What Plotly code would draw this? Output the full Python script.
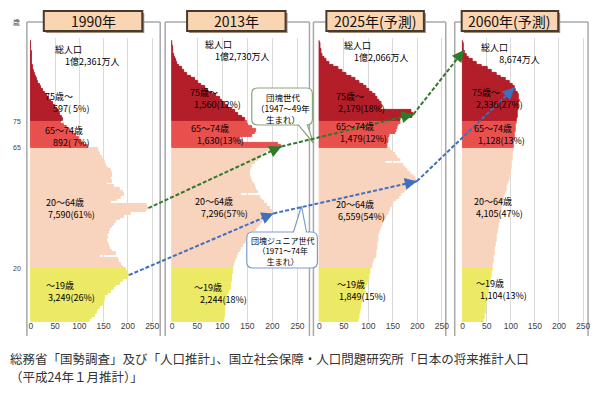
import plotly.graph_objects as go

W, H = 600, 393

# ---------------- data (万人, single-year ages 0..104) ----------------
ages = list(range(105))

pop_1990 = [122, 125, 131, 135, 138, 143, 149, 151, 152, 153, 158, 164, 171, 176, 183, 190, 200, 202, 200, 196,
            190, 186, 182, 180, 142, 176, 166, 162, 160, 158, 157, 158, 156, 160, 162, 166, 170, 176, 183, 192,
            205, 236, 242, 238, 165, 178, 186, 192, 190, 184, 172, 156, 166, 165, 166, 166, 164, 158, 155, 153,
            150, 146, 143, 140, 138,
            118, 110, 104, 98, 92, 86, 80, 74, 68, 62,
            66, 63, 60, 57, 53, 49, 45, 41, 37, 33, 29, 25, 21, 18, 15, 12, 10, 8, 6.5, 5,
            4, 3, 2.4, 1.8, 1.4, 1.1, 0.8, 0.6, 0.4, 0.3]

pop_2013 = [103, 104, 105, 105, 106, 106, 107, 108, 110, 109, 112, 114, 117, 118, 117, 119, 120, 120, 121, 122,
            122, 124, 126, 127, 129, 132, 135, 138, 141, 145, 148, 152, 156, 162, 168, 172, 176, 180, 186, 196,
            202, 200, 196, 190, 184, 180, 176, 138, 172, 168, 166, 163, 160, 158, 156, 155, 156, 157, 160, 166,
            172, 176, 180, 185, 200,
            218, 212, 140, 135, 160, 165, 168, 160, 152, 150,
            145, 140, 132, 126, 119, 112, 105, 100, 95, 88, 80, 72, 65, 58, 52, 45, 37, 30, 24, 19,
            14, 10, 7, 5, 3.5, 2.5, 1.6, 1.1, 0.7, 0.4]

pop_2025 = [80, 81, 82, 83, 84, 85, 86, 87, 88, 89, 91, 93, 95, 97, 99, 101, 102, 103, 104, 105,
            108, 108, 111, 113, 116, 117, 116, 118, 119, 119, 120, 121, 121, 123, 125, 126, 128, 131, 134, 137,
            140, 143, 146, 149, 152, 157, 163, 168, 173, 178, 184, 193, 199, 197, 192, 186, 180, 176, 172, 135,
            165, 160, 155, 150, 145,
            138, 139, 140, 142, 143, 155, 158, 160, 162, 165,
            165, 190, 192, 188, 125, 128, 126, 122, 118, 114, 108, 102, 96, 90, 82, 74, 65, 56, 47, 38,
            29, 21, 15, 10, 7, 5, 3.3, 2.2, 1.4, 0.8]

pop_2060 = [44, 45, 46, 47, 47, 48, 49, 50, 51, 52, 53, 54, 55, 56, 57, 58, 59, 60, 61, 62,
            63, 63, 64, 65, 65, 66, 67, 67, 68, 69, 70, 70, 71, 72, 73, 74, 75, 76, 77, 78,
            79, 80, 81, 82, 83, 85, 86, 88, 89, 91, 92, 94, 95, 97, 98, 99, 100, 101, 101, 102,
            103, 103, 104, 104, 105,
            106, 106, 107, 108, 108, 109, 110, 110, 111, 112,
            113, 114, 114, 115, 116, 116, 117, 118, 117, 116, 114, 111, 108, 103, 97, 89, 80, 71, 61, 51,
            40, 30, 21, 13, 8, 5, 3, 2, 1.5, 1]

series = [pop_1990, pop_2013, pop_2025, pop_2060]
survey_years = [1990, 2013, 2025, 2060]
titles = ["1990年", "2013年", "2025年(予測)", "2060年(予測)"]
totals = ["1億2,361万人", "1億2,730万人", "1億2,066万人", "8,674万人"]
lab_75 = ["597( 5%)", "1,560(12%)", "2,179(18%)", "2,336(27%)"]
lab_65 = ["892( 7%)", "1,630(13%)", "1,479(12%)", "1,128(13%)"]
lab_20 = ["7,590(61%)", "7,296(57%)", "6,559(54%)", "4,105(47%)"]
lab_0 = ["3,249(26%)", "2,244(18%)", "1,849(15%)", "1,104(13%)"]
x_ticks = [0, 50, 100, 150, 200, 250]
age_ticks = [75, 65, 20]
dankai_birth = 1948
junior_birth = 1973

# ---------------- layout constants ----------------
FONT = "Noto Sans CJK JP"
C_YOUNG, C_WORK, C_6574, C_75 = "#ECEA66", "#F8D4BD", "#E8514F", "#B31E29"
zero_px = [30, 172, 320, 464]
scale = [0.488, 0.504, 0.492, 0.484]
XR = [-2, 262]
AGE0_PX, PX_YR = 322, 2.68
YR = [0, 106]
frames = [(26, 160), (165, 310), (314, 447), (456, 590)]
boxes = [(43, 142), (187, 286), (327, 425), (463, 560)]
FR_TOP, FR_BOT = 22, 336
NB = "\u00a0"


def px(x):
    return x / W


def py(y):
    return 1 - y / H


def color_for(a):
    if a < 20:
        return C_YOUNG
    if a < 65:
        return C_WORK
    if a < 75:
        return C_6574
    return C_75


fig = go.Figure()
layout_axes = {}
for i, vals in enumerate(series):
    sfx = "" if i == 0 else str(i + 1)
    cols = [color_for(a) for a in ages]
    fig.add_trace(go.Bar(
        x=vals, y=[a + 0.5 for a in ages], orientation="h", width=1,
        marker=dict(color=cols, line=dict(width=1, color=cols)),
        xaxis="x" + sfx, yaxis="y" + sfx, showlegend=False, hoverinfo="skip"))
    z, s = zero_px[i], scale[i]
    layout_axes["xaxis" + sfx] = dict(
        domain=[px(z + XR[0] * s), px(z + XR[1] * s)], range=XR, anchor="y" + sfx,
        tickvals=x_ticks, showgrid=True, gridcolor="#DADADA", gridwidth=1, zeroline=False,
        showline=False, ticks="", tickfont=dict(size=8.5, color="#404040", family="Liberation Sans"),
        ticklabelstandoff=-3, fixedrange=True)
    layout_axes["yaxis" + sfx] = dict(
        domain=[py(AGE0_PX), py(AGE0_PX - YR[1] * PX_YR)], range=YR, anchor="x" + sfx,
        showticklabels=False, showgrid=False, zeroline=False, showline=False, fixedrange=True)


def to_px(i, value, age):
    return zero_px[i] + value * scale[i], AGE0_PX - (age + 0.5) * PX_YR


shapes = []
annotations = []

# frames
for (l, r) in frames:
    for seg in [(l, FR_TOP, r, FR_TOP), (l, FR_TOP, l, FR_BOT), (r, FR_TOP, r, FR_BOT)]:
        shapes.append(dict(type="line", xref="paper", yref="paper", x0=px(seg[0]), y0=py(seg[1]),
                           x1=px(seg[2]), y1=py(seg[3]), line=dict(color="#A8A8A8", width=1.5), layer="below"))

# title boxes
for i, (l, r) in enumerate(boxes):
    shapes.append(dict(type="rect", xref="paper", yref="paper", x0=px(l + 2), y0=py(33), x1=px(r + 2), y1=py(13),
                       fillcolor="#9C8C7C", line=dict(width=0)))
    shapes.append(dict(type="rect", xref="paper", yref="paper", x0=px(l), y0=py(31), x1=px(r), y1=py(11),
                       fillcolor="#FAD5B2", line=dict(color="#4A3A2C", width=2)))
    annotations.append(dict(xref="paper", yref="paper", x=px((l + r) / 2), y=py(21), text=titles[i],
                            showarrow=False, font=dict(size=14, color="#111", family=FONT),
                            xanchor="center", yanchor="middle"))

# labels inside panels: (x of first line, indent of second line, y of first line, y of second line)
label_pos = [
    [(52, 10, 50, 62), (42, 8, 97, 107), (42, 8, 131, 141), (43, 2, 203, 214), (43, 2, 286, 297)],
    [(203, 10, 43, 57), (188, 5, 93, 104), (189, 6, 129, 140), (193, 7, 203, 213), (192, 6, 288, 298)],
    [(343, 10, 45, 57), (335, 3, 97, 107), (335, 4, 127, 137), (335, 3, 205, 216), (336, 3, 285, 296)],
    [(480, 19, 47, 60), (471, 4, 92, 105), (473, 5, 129, 140), (473, 3, 202, 213), (475, 4, 284, 295)],
]
for i in range(4):
    pairs = [("総人口", totals[i]), ("75歳～", lab_75[i]), ("65～74歳", lab_65[i]),
             ("20～64歳", lab_20[i]), ("～19歳", lab_0[i])]
    for (t1, t2), (x, ind, y1, y2) in zip(pairs, label_pos[i]):
        txt = t1 + "<br>" + NB * round(ind / 2.1) + t2
        annotations.append(dict(xref="paper", yref="paper", x=px(x), y=py((y1 + y2) / 2), text=txt,
                                showarrow=False, align="left",
                                font=dict(size=9, color="#000", family=FONT), xanchor="left", yanchor="middle"))

# age axis labels
annotations.append(dict(xref="paper", yref="paper", x=px(16), y=py(22), text="歳", showarrow=False,
                        font=dict(size=7, color="#444", family=FONT), xanchor="center", yanchor="middle"))
for a in age_ticks:
    annotations.append(dict(xref="paper", yref="paper", x=px(16), y=py(AGE0_PX - a * PX_YR), text=str(a),
                            showarrow=False, font=dict(size=7, color="#444", family="Liberation Sans"),
                            xanchor="center", yanchor="middle"))


# callouts
def rounded_path(l, t, r, b, rad, tail=None, tail_side="bottom"):
    P = lambda x, y: f"{px(x):.5f},{py(y):.5f}"
    d = f"M{P(l + rad, t)}"
    if tail and tail_side == "top":
        d += f" L{P(tail[0], t)} L{P(tail[2], tail[3])} L{P(tail[1], t)}"
    d += f" L{P(r - rad, t)} Q{P(r, t)} {P(r, t + rad)} L{P(r, b - rad)} Q{P(r, b)} {P(r - rad, b)}"
    if tail and tail_side == "bottom":
        d += f" L{P(tail[1], b)} L{P(tail[2], tail[3])} L{P(tail[0], b)}"
    d += f" L{P(l + rad, b)} Q{P(l, b)} {P(l, b - rad)} L{P(l, t + rad)} Q{P(l, t)} {P(l + rad, t)} Z"
    return d


shapes.append(dict(type="path", xref="paper", yref="paper",
                   path=rounded_path(252, 88, 313, 125, 6, tail=(299, 308, 314, 143), tail_side="bottom"),
                   fillcolor="white", line=dict(color="#86A67A", width=1.2)))
shapes.append(dict(type="path", xref="paper", yref="paper",
                   path=rounded_path(247, 232, 318, 268, 6, tail=(294, 307, 302, 206), tail_side="top"),
                   fillcolor="white", line=dict(color="#7C9CCB", width=1.2)))
annotations.append(dict(xref="paper", yref="paper", x=px(283), y=py(107.5),
                        text="団塊世代<br>（1947～49年<br>生まれ）", showarrow=False, align="center",
                        font=dict(size=8.5, color="#000", family=FONT), xanchor="center", yanchor="middle"))
annotations.append(dict(xref="paper", yref="paper", x=px(283), y=py(250.5),
                        text="団塊ジュニア世代<br>（1971～74年<br>生まれ）", showarrow=False, align="center",
                        font=dict(size=8, color="#000", family=FONT), xanchor="center", yanchor="middle"))


# cohort arrows
def cohort_points(birth):
    pts = []
    for i, yr in enumerate(survey_years):
        a = min(yr - birth, 101)
        pts.append(to_px(i, series[i][a], a))
    return pts


for birth, col in [(dankai_birth, "#2F7A2A"), (junior_birth, "#3F6FC0")]:
    pts = cohort_points(birth)
    for (x0, y0), (x1, y1) in zip(pts[:-1], pts[1:]):
        shapes.append(dict(type="line", xref="paper", yref="paper", x0=px(x0), y0=py(y0), x1=px(x1), y1=py(y1),
                           line=dict(color=col, width=2, dash="4px,2px")))
        dx, dy = x1 - x0, y1 - y0
        ln = (dx * dx + dy * dy) ** 0.5
        annotations.append(dict(xref="paper", yref="paper", x=px(x1), y=py(y1), ax=-dx / ln * 6, ay=-dy / ln * 6,
                                axref="pixel", ayref="pixel", text="", showarrow=True, arrowhead=2,
                                arrowsize=1.2, arrowwidth=2, arrowcolor=col, standoff=0))

# source
annotations.append(dict(xref="paper", yref="paper", x=px(7), y=py(358),
                        text="総務省「国勢調査」及び「人口推計」、国立社会保障・人口問題研究所「日本の将来推計人口",
                        showarrow=False, font=dict(size=12.5, color="#333", family=FONT),
                        xanchor="left", yanchor="middle"))
annotations.append(dict(xref="paper", yref="paper", x=px(7), y=py(376), text="（平成24年１月推計）」",
                        showarrow=False, font=dict(size=12.5, color="#333", family=FONT),
                        xanchor="left", yanchor="middle"))

fig.update_layout(width=W, height=H, margin=dict(l=0, r=0, t=0, b=0), paper_bgcolor="white",
                  plot_bgcolor="white", shapes=shapes, annotations=annotations, bargap=0,
                  font=dict(family=FONT), **layout_axes)
fig.write_html("out.html", config={"displayModeBar": False},
               post_script="document.body.style.margin='0';document.body.style.padding='0';")
